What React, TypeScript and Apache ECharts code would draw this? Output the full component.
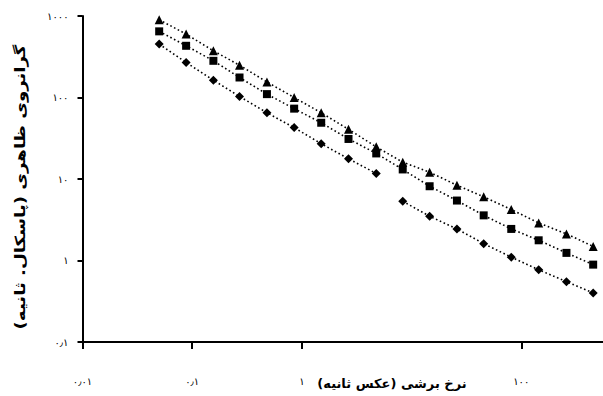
import React, { useEffect, useRef } from "react";
import * as echarts from "echarts";

const shearRate = [0.05, 0.088, 0.156, 0.27, 0.48, 0.85, 1.5, 2.66, 4.76, 8.3, 14.6, 25.9, 45.4, 81, 144, 258, 452];
const seriesTriangle = [900, 600, 374, 249, 155, 100, 65, 40.7, 24.8, 16.1, 12.1, 8.39, 6.04, 4.22, 2.89, 2.12, 1.49];
const seriesSquare = [648, 431, 282, 176, 110, 73, 49, 31, 20.6, 13.1, 8.15, 5.44, 3.58, 2.44, 1.77, 1.24, 0.89];
const seriesDiamond = [452, 269, 163, 103, 65, 42.7, 27.1, 17.7, 11.7, 5.33, 3.49, 2.44, 1.61, 1.1, 0.77, 0.55, 0.4];
const diamondBreakAfter = 8; // gap in the diamond line between 9th and 10th point

const yTickLabels: Record<string, string> = { "0.1": "۰٫۱", "1": "۱", "10": "۱۰", "100": "۱۰۰", "1000": "۱۰۰۰" };
const xTickLabels: Record<string, string> = { "0.01": "۰٫۰۱", "0.1": "۰٫۱", "1": "۱", "10": "", "100": "۱۰۰", "1000": "" };
const xTickValues = [0.01, 0.1, 1, 100];

const yTitle = "گرانروی ظاهری (پاسکال. ثانیه)";
const xTitle = "نرخ برشی (عکس ثانیه)";

const FONT = "DejaVu Sans";

export default function App() {
  const ref = useRef<HTMLDivElement>(null);
  useEffect(() => {
    if (!ref.current) return;
    const chart = echarts.init(ref.current, undefined, { renderer: "svg" });
    const pairs = (ys: number[]) => shearRate.map((x, i) => [x, ys[i]]);
    const diamondData: any[] = [];
    shearRate.forEach((x, i) => {
      diamondData.push([x, seriesDiamond[i]]);
      if (i === diamondBreakAfter) diamondData.push([Math.sqrt(x * shearRate[i + 1]), "-"]);
    });
    const lineStyle = { color: "#000", width: 1.6, type: [1.6, 2.6] as any };
    chart.setOption({
      animation: false,
      backgroundColor: "#fff",
      grid: { left: 82.5, right: 0, top: 16, bottom: 54, containLabel: false },
      xAxis: {
        type: "log",
        logBase: 10,
        min: 0.01,
        max: 1000,
        axisLine: { lineStyle: { color: "#000", width: 2 } },
        axisTick: { show: true, length: 7, lineStyle: { color: "#000", width: 2 }, customValues: xTickValues },
        axisLabel: {
          margin: 34,
          color: "#000",
          fontFamily: FONT,
          fontSize: 10,
          customValues: xTickValues,
          formatter: (v: number) => xTickLabels[String(v)] ?? "",
        },
        splitLine: { show: false },
        minorTick: { show: false },
      },
      yAxis: {
        type: "log",
        logBase: 10,
        min: 0.1,
        max: 1000,
        axisLine: { show: true, lineStyle: { color: "#000", width: 2 } },
        axisTick: { show: true, length: 5, lineStyle: { color: "#000", width: 2 } },
        axisLabel: {
          margin: 14,
          color: "#000",
          fontFamily: FONT,
          fontSize: 10,
          formatter: (v: number) => yTickLabels[String(v)] ?? "",
        },
        splitLine: { show: false },
      },
      graphic: [
        {
          type: "text",
          x: 20,
          y: 187,
          rotation: Math.PI / 2,
          scaleX: 1.3,
          style: { text: yTitle, font: `bold 14px "${FONT}"`, fill: "#000", align: "center", verticalAlign: "middle" },
        },
        {
          type: "text",
          x: 392,
          y: 383,
          style: { text: xTitle, font: `bold 13px "${FONT}"`, fill: "#000", align: "center", verticalAlign: "middle" },
        },
      ],
      series: [
        { type: "line", data: pairs(seriesTriangle), symbol: "triangle", symbolSize: 9, itemStyle: { color: "#000" }, lineStyle },
        { type: "line", data: pairs(seriesSquare), symbol: "rect", symbolSize: 8, itemStyle: { color: "#000" }, lineStyle },
        { type: "line", data: diamondData, connectNulls: false, symbol: "diamond", symbolSize: 9, itemStyle: { color: "#000" }, lineStyle },
      ],
    });
    return () => chart.dispose();
  }, []);
  return <div ref={ref} style={{ position: "fixed", left: 0, top: 0, width: 631, height: 396 }} />;
}
